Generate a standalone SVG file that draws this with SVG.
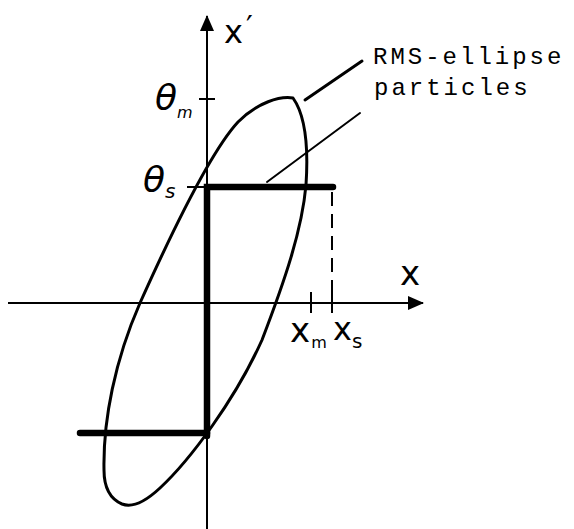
<svg xmlns="http://www.w3.org/2000/svg" width="574" height="529" viewBox="0 0 574 529">
<style>
.thin{stroke:#000;stroke-width:2;fill:none}
.thick{stroke:#000;stroke-width:6.5;fill:none;stroke-linecap:round}
.curve{stroke:#000;stroke-width:3;fill:none;stroke-linejoin:round}
.lead{stroke:#000;fill:none;stroke-linecap:round}
.hand{font-family:"DejaVu Sans",sans-serif;fill:#000}
.mono{font-family:"Liberation Mono","Courier New",monospace;font-size:24px;letter-spacing:3px;fill:#000}
</style>
<defs>
<marker id="arr" markerWidth="16" markerHeight="14" refX="15" refY="7" orient="auto" markerUnits="userSpaceOnUse">
<path d="M0,0 L16,7 L0,14 Z" fill="#000"/>
</marker>
</defs>
<rect width="574" height="529" fill="#fff"/>
<g id="connectors">
<line id="x-axis" class="thin" x1="8" y1="303" x2="423" y2="303" marker-end="url(#arr)"/>
<line id="xp-axis" class="thin" x1="207" y1="529" x2="207" y2="16" marker-end="url(#arr)"/>
<line class="thin" x1="199" y1="99" x2="215" y2="99"/>
<line class="thin" x1="187" y1="187" x2="207" y2="187"/>
<line class="thin" x1="311" y1="292" x2="311" y2="313"/>
<line class="thin" x1="332" y1="292" x2="332" y2="313"/>
<line class="thin" x1="332" y1="192" x2="332" y2="292" stroke-dasharray="14 8"/>
<line class="lead" stroke-width="3" x1="305" y1="100" x2="362" y2="61"/>
<line class="lead" stroke-width="2" x1="267" y1="182" x2="360" y2="113"/>
</g>
<g id="rms-ellipse">
<path class="curve" d="M293,98 C303,112 309,140 306,185 C302,230 285,280 262,340 C235,400 190,460 160,488 C145,502 132,508 122,504 C108,498 104,485 104,470 C103,420 115,360 140,303 C175,225 212,150 238,122 C258,102 280,96 293,98 Z"/>
</g>
<g id="particles">
<polyline class="thick" points="333,187 207,187 207,436"/>
<line class="thick" x1="80" y1="433" x2="207" y2="433"/>
</g>
<g id="labels">
<text class="mono" x="373" y="64">RMS-ellipse</text>
<text class="mono" x="374" y="95">particles</text>
<text class="hand" x="224" y="43" font-size="32">x<tspan dx="3" dy="-6" font-size="30">′</tspan></text>
<text class="hand" x="155" y="110" font-size="36" font-style="italic">θ<tspan dx="0" dy="8" font-size="16">m</tspan></text>
<text class="hand" x="143" y="192" font-size="36" font-style="italic">θ<tspan dx="0" dy="6" font-size="20">s</tspan></text>
<text class="hand" x="400" y="285" font-size="34">x</text>
<text class="hand" x="290" y="342" font-size="34">x<tspan dx="1" dy="6" font-size="16">m</tspan></text>
<text class="hand" x="333" y="340" font-size="32">x<tspan dx="0" dy="8" font-size="20">s</tspan></text>
</g>
</svg>
